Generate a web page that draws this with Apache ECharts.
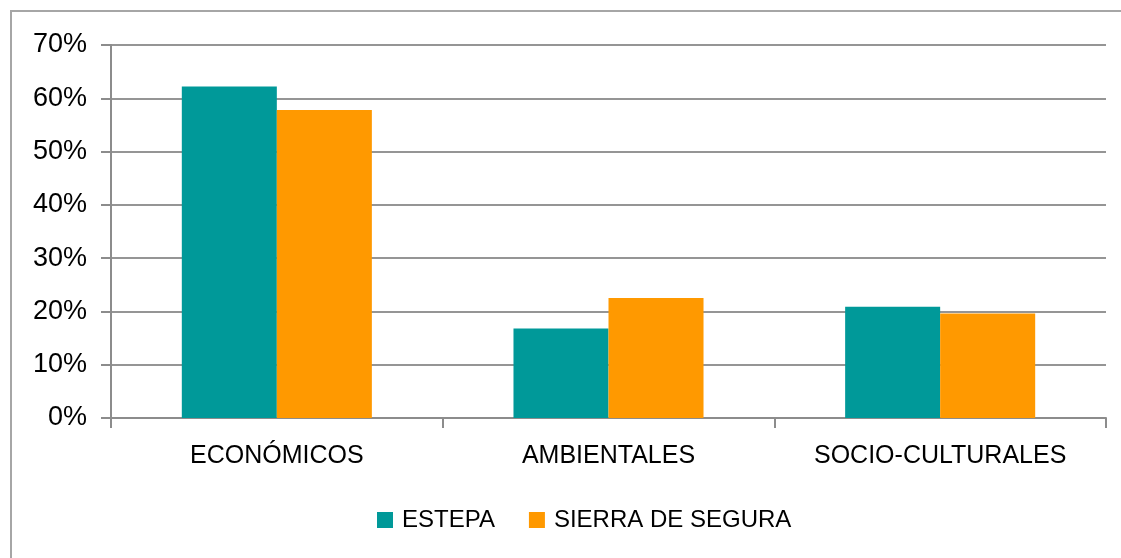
<!DOCTYPE html>
<html>
<head>
<meta charset="utf-8">
<script src="https://cdn.jsdelivr.net/npm/echarts@6/dist/echarts.min.js"></script>
<style>html,body{margin:0;padding:0;background:#fff;}#c{width:1121px;height:558px;}</style>
</head>
<body>
<div id="c"></div>
<script>
const categories = ['ECONÓMICOS', 'AMBIENTALES', 'SOCIO-CULTURALES'];
const estepa = [62.2, 16.8, 20.9];
const sierra = [57.8, 22.5, 19.6];
const seriesNames = ['ESTEPA', 'SIERRA DE SEGURA'];

const chart = echarts.init(document.getElementById('c'));
const FONT = '"Liberation Sans", Arial, sans-serif';
chart.setOption({
  animation: false,
  backgroundColor: '#fff',
  graphic: [{
    type: 'polyline', shape: {points: [[11, 600], [11, 11], [1130, 11]]},
    style: {fill: 'none', stroke: '#a6a6a6', lineWidth: 2}, silent: true
  }],
  legend: {
    data: seriesNames, left: 377, top: 508, itemWidth: 16, itemHeight: 16, itemGap: 34,
    padding: 0, icon: 'rect',
    textStyle: {fontFamily: FONT, fontSize: 24, color: '#000', padding: [0, 0, 0, 4]}
  },
  grid: {left: 111, right: 15, top: 45, bottom: 140, containLabel: false},
  xAxis: {
    type: 'category', data: categories,
    axisLine: {lineStyle: {color: '#8c8c8c', width: 2}},
    axisTick: {show: true, length: 10, lineStyle: {color: '#8c8c8c', width: 2}},
    axisLabel: {fontFamily: FONT, fontSize: 25, color: '#000', margin: 26}
  },
  yAxis: {
    type: 'value', min: 0, max: 70, interval: 10,
    axisLine: {show: true, lineStyle: {color: '#8c8c8c', width: 2}},
    axisTick: {show: true, length: 10, lineStyle: {color: '#8c8c8c', width: 2}},
    splitLine: {lineStyle: {color: '#959595', width: 2}},
    axisLabel: {fontFamily: FONT, fontSize: 27, color: '#000', margin: 24, formatter: '{value}%'}
  },
  series: [
    {name: seriesNames[0], type: 'bar', data: estepa, barGap: '0%', barCategoryGap: '42.7%',
     itemStyle: {color: '#009999'}},
    {name: seriesNames[1], type: 'bar', data: sierra, itemStyle: {color: '#ff9900'}}
  ]
});
</script>
</body>
</html>
